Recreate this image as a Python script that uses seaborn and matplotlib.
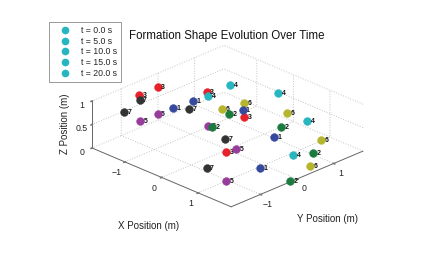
import numpy as np
import matplotlib
matplotlib.use("Agg")
import matplotlib.pyplot as plt
from matplotlib.lines import Line2D
from matplotlib.transforms import offset_copy
from mpl_toolkits.mplot3d import proj3d
import seaborn as sns

# formation snapshots (x, y per agent 1..7), one altitude per snapshot
time_labels = ["t = 0.0 s", "t = 5.0 s", "t = 10.0 s", "t = 15.0 s", "t = 20.0 s"]
z_levels = [0.0, 0.25, 0.5, 0.75, 1.0]

x_t0 = [1.04, 1.87, 0.06, 1.07, 1.00, 1.66, 0.31]
y_t0 = [-0.15, -0.16, -0.09, 0.72, -1.03, 0.60, -0.88]
x_t5 = [0.61, 1.66, -0.44, 0.54, 0.48, 1.35, 0.01]
y_t5 = [0.66, 0.68, 0.90, 1.63, -0.24, 1.20, -0.07]
x_t10 = [-0.31, 0.76, -1.38, -0.37, -0.26, 0.39, -1.07]
y_t10 = [0.72, 0.70, 0.81, 1.76, -0.26, 1.23, 0.03]
x_t15 = [-0.89, 0.02, -1.83, -0.90, -0.96, -0.13, -1.66]
y_t15 = [-0.04, 0.03, -0.08, 0.98, -0.95, 0.59, -0.74]
x_t20 = [-0.56, 0.59, -1.45, -0.47, -0.58, 0.14, -1.11]
y_t20 = [-0.92, -1.00, -0.97, -0.05, -1.80, -0.28, -1.72]

agent_ids = [1, 2, 3, 4, 5, 6, 7]
agent_colors = ["#37499e", "#1b7a3e", "#e8202a", "#27b6c0", "#983c9c", "#b6b62e", "#333333"]
legend_color = "#27b6c0"

xs_all = [x_t0, x_t5, x_t10, x_t15, x_t20]
ys_all = [y_t0, y_t5, y_t10, y_t15, y_t20]

sns.set_theme(style="white")
plt.rcParams["font.family"] = ["Liberation Sans", "DejaVu Sans"]
plt.rcParams["grid.color"] = "#c4c4c4"
plt.rcParams["grid.linestyle"] = ":"
plt.rcParams["grid.linewidth"] = 0.7

XL, YL, ZL = (-1.9, 1.9), (-1.8, 1.8), (0, 1)

fig = plt.figure(figsize=(4.23, 2.67), dpi=100)
ax = fig.add_subplot(projection="3d", proj_type="ortho")
ax.view_init(elev=25, azim=-45)
ax.set_xlim(*XL)
ax.set_ylim(*YL)
ax.set_zlim(*ZL)
ax.set_box_aspect((XL[1] - XL[0], YL[1] - YL[0], ZL[1] - ZL[0]))

palette = sns.color_palette(agent_colors)
for i, aid in enumerate(agent_ids):
    px = [xs[i] for xs in xs_all]
    py = [ys[i] for ys in ys_all]
    ax.scatter(px, py, z_levels, s=32, color=palette[i], edgecolors=palette[i],
               linewidths=0.3, depthshade=False, alpha=1)

ax.set_xticks([-1, 0, 1])
ax.set_yticks([-1, 0, 1])
ax.set_zticks([0, 0.5, 1])
ax.set_zticklabels(["0", "0.5", "1"])
ax.tick_params(labelsize=6.3, pad=-2, color="#777777", labelcolor="#222222")
ax.yaxis.set_tick_params(pad=-3)
ax.zaxis.set_tick_params(pad=-4.2)
ax.zaxis.set_ticks_position("lower")
ax.zaxis.set_label_position("lower")

for axis in (ax.xaxis, ax.yaxis, ax.zaxis):
    axis.set_pane_color((1, 1, 1, 0))
    axis.pane.set_edgecolor("none")
    axis.line.set_color("#666666")
    axis.line.set_linewidth(0.7)
    axis._axinfo["tick"]["inward_factor"] = 0.1
    axis._axinfo["tick"]["outward_factor"] = 0.05

# legend (MATLAB-style, all entries share one marker colour)
handles = [Line2D([], [], linestyle="none", marker="o", markersize=4.5,
                  markerfacecolor=legend_color, markeredgecolor=legend_color)
           for _ in time_labels]
leg = fig.legend(handles, time_labels, loc="upper left",
                 bbox_to_anchor=(49 / 423, 1 - 22 / 267), fontsize=6.3,
                 frameon=True, fancybox=False, framealpha=1, borderaxespad=0,
                 borderpad=0.45, labelspacing=0.2, handlelength=2.8,
                 handletextpad=0.45)
leg.get_frame().set_edgecolor("#888888")
leg.get_frame().set_linewidth(0.6)

fig.text(227 / 423, 1 - 38.5 / 267, "Formation Shape Evolution Over Time",
         fontsize=8.3, ha="center", va="baseline", color="#111111")
fig.text(149 / 423, 1 - 226 / 267, "X Position (m)", fontsize=7,
         ha="center", va="center", color="#222222")
fig.text(327 / 423, 1 - 219 / 267, "Y Position (m)", fontsize=7,
         ha="center", va="center", color="#222222")
fig.text(65 / 423, 1 - 124 / 267, "Z Position (m)", fontsize=7, rotation=90,
         ha="center", va="center", color="#222222")

# fit the projected box onto the reference pixel corners
W, H = fig.bbox.width, fig.bbox.height


def to_2d(x, y, z):
    a, b, _ = proj3d.proj_transform(x, y, z, ax.get_proj())
    return np.array([a, b])


for _ in range(2):
    fig.canvas.draw()
    pos = ax.get_position()
    S0 = pos.width * W
    C0 = np.array([(pos.x0 + pos.width / 2) * W, (pos.y0 + pos.height / 2) * H])
    fl = (ax.transData.transform(to_2d(XL[0], YL[0], 0)) - C0) / S0
    fr = (ax.transData.transform(to_2d(XL[1], YL[1], 0)) - C0) / S0
    tl = np.array([92, H - 148])
    tr = np.array([363, H - 152])
    S = (tr[0] - tl[0]) / (fr[0] - fl[0])
    C = tl - S * fl
    ax.set_position([(C[0] - S / 2) / W, (C[1] - S / 2) / H, S / W, S / H])

# agent number labels, placed beside each projected marker
fig.canvas.draw()
label_tr = offset_copy(ax.transData, fig=fig, x=3.5, y=-0.5, units="dots")
for i, aid in enumerate(agent_ids):
    for xs, ys, z in zip(xs_all, ys_all, z_levels):
        a, b = to_2d(xs[i], ys[i], z)
        ax.text2D(a, b, str(aid), transform=label_tr, fontsize=5, ha="left",
                  va="center", color="#111111", fontweight="bold")

fig.savefig("out.png", dpi=100)
